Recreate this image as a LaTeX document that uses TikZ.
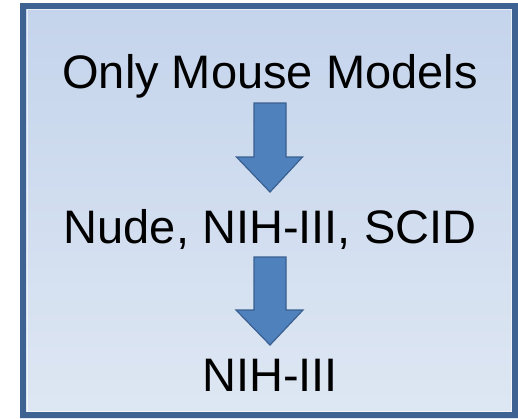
\documentclass[tikz,border=0pt]{standalone}
\usepackage{fontspec}
\setmainfont{Liberation Sans}
\definecolor{framec}{RGB}{62,98,146}
\definecolor{bgtop}{RGB}{196,212,236}
\definecolor{bgbot}{RGB}{222,231,243}
\definecolor{arrowfill}{RGB}{79,129,189}
\definecolor{arrowedge}{RGB}{58,96,145}
\begin{document}
\begin{tikzpicture}[x=1pt,y=1pt,
  lbl/.style={anchor=base,inner sep=0pt,font=\fontsize{47}{52}\selectfont,text=black},
  blockarrow/.style={fill=arrowfill,draw=arrowedge,line width=1.2pt,line join=miter}]
\useasboundingbox (0,0) rectangle (518,-418);
\fill[white] (0,0) rectangle (518,-418);
% frame
\shade[top color=bgtop,bottom color=bgbot] (20,-3) rectangle (518,-418);
\draw[white,opacity=0.6,line width=1pt] (27.5,-9.5) rectangle (511.5,-411.5);
\draw[framec,line width=6pt] (23,-6) rectangle (515,-415);
% texts
\node[lbl] (t1) at (270,-88) {Only Mouse Models};
\node[lbl] (t2) at (270,-243) {Nude, NIH-III, SCID};
\node[lbl] (t3) at (270,-391) {NIH-III};
% arrows
\coordinate (a1) at (270,-103);
\coordinate (a2) at (270,-257);
\draw[blockarrow] (a1) ++(-16,0) -- ++(32,0) -- ++(0,-54) -- ++(16.5,0) -- (270,-192) -- (236.5,-157) -- (254,-157) -- cycle;
\draw[blockarrow] (a2) ++(-16,0) -- ++(32,0) -- ++(0,-53) -- ++(17,0) -- (270,-345) -- (236,-310) -- (254,-310) -- cycle;
\end{tikzpicture}
\end{document}
